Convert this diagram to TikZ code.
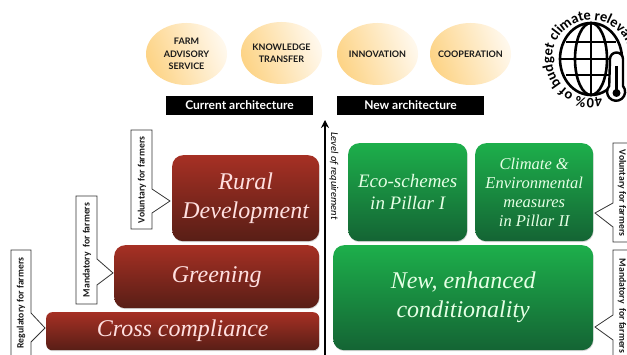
\documentclass[tikz,border=0pt]{standalone}
\usepackage{fontspec}
\setmainfont{Liberation Serif}
\newfontfamily\labelfont{Carlito}
\newfontfamily\capsfont{Lato}
\usepackage{xcolor}
\usetikzlibrary{shapes.geometric,shadows,arrows.meta}
\definecolor{redtop}{RGB}{166,48,36}
\definecolor{redmid}{RGB}{146,42,30}
\definecolor{redlow}{RGB}{88,30,22}
\definecolor{greentop}{RGB}{29,175,75}
\definecolor{greenmid}{RGB}{27,155,68}
\definecolor{greenlow}{RGB}{20,100,52}
\definecolor{peach1}{RGB}{253,212,135}
\definecolor{peach2}{RGB}{255,248,236}
\tikzset{
  redbox/.style={rectangle, rounded corners=11pt, anchor=north west, inner sep=0pt, top color=redtop, middle color=redmid, bottom color=redlow, text=white!88!red, align=center, font=\itshape\fontsize{24}{29}\selectfont, drop shadow={opacity=0.3,shadow xshift=0.5pt,shadow yshift=-1pt}},
  greenbox/.style={rectangle, rounded corners=11pt, anchor=north west, inner sep=0pt, top color=greentop, middle color=greenmid, bottom color=greenlow, text=white!90!green, align=center, font=\itshape\fontsize{24}{29}\selectfont, drop shadow={opacity=0.3,shadow xshift=0.5pt,shadow yshift=-1pt}},
  farmoval/.style={ellipse, minimum width=81pt, minimum height=62pt, inner sep=0pt, left color=peach1, right color=peach2, shading angle=110},
  ovaltext/.style={inner sep=0pt, align=center, text=black!90, font=\capsfont\bfseries\fontsize{9}{12.5}\selectfont},
  archbar/.style={rectangle, fill=black, text=white, minimum width=147pt, minimum height=19pt, inner sep=0pt, font=\capsfont\bfseries\fontsize{12}{14}\selectfont},
  farmerbox/.style={draw=black!80, line width=0.8pt, fill=white},
  farmertext/.style={inner sep=0pt, text=black!90, font=\labelfont\bfseries\fontsize{9.7}{11}\selectfont},
  ringtext/.style={inner sep=0pt, anchor=base, font=\labelfont\bfseries\fontsize{14.5}{15}\selectfont},
  iconline/.style={line width=2.6pt, black}
}
\begin{document}
\begin{tikzpicture}[x=1pt, y=-1pt]
\useasboundingbox (0,0) rectangle (627,355);
\clip (0,0) rectangle (627,355);
\fill[white] (0,0) rectangle (627,355);

% Ovals
\node[farmoval, label={[ovaltext]center:{FARM\\ADVISORY\\SERVICE}}] (advisory) at (186.5,54) {};
\node[farmoval, label={[ovaltext]center:{KNOWLEDGE\\TRANSFER}}] (knowledge) at (281.5,53) {};
\node[farmoval, label={[ovaltext]center:INNOVATION}] (innovation) at (377.5,54) {};
\node[farmoval, label={[ovaltext]center:COOPERATION}] (cooperation) at (470.5,54) {};

% Bars
\node[archbar] (current) at (239.5,105.5) {Current architecture};
\node[archbar] (new) at (410.5,105.5) {New architecture};

% Red boxes
\node[redbox, minimum width=147pt, minimum height=86pt] (rural) at (172,155) {Rural\\Development};
\node[redbox, minimum width=205pt, minimum height=63pt] (greening) at (114,245) {Greening};
\node[redbox, rounded corners=6pt, minimum width=273pt, minimum height=38pt] (cross) at (46,312) {Cross compliance};

% Green boxes
\node[greenbox, minimum width=119pt, minimum height=98pt, font=\itshape\fontsize{19}{22}\selectfont] (eco) at (348,143) {Eco-schemes\\in Pillar I};
\node[greenbox, minimum width=118pt, minimum height=98pt, font=\itshape\fontsize{16.5}{19}\selectfont] (climate) at (475,143) {Climate \&\\Environmental\\measures\\in Pillar II};
\node[greenbox, minimum width=260pt, minimum height=105pt] (cond) at (333,245) {New, enhanced\\conditionality};

% Axis
\coordinate (axisdown) at (325,356);
\coordinate (axisup) at (325,120);
\draw[-{Stealth[length=8pt,width=8pt]}, line width=2pt] (axisdown) -- (axisup);
\node[rotate=-90, inner sep=0pt, font=\labelfont\itshape\fontsize{10.5}{12}\selectfont] (level) at (334,176) {Level of requirement};

% Farmer labels
\draw[farmerbox] (131,130) -- (152,130) -- (152,189) -- (170,201) -- (152,213) -- (152,229) -- (131,229) -- cycle;
\node[farmertext, rotate=90] (vol1) at (142,180) {Voluntary for farmers};
\draw[farmerbox] (76,196) -- (97,196) -- (97,259) -- (113,273) -- (97,285) -- (97,304) -- (76,304) -- cycle;
\node[farmertext, rotate=90] (man1) at (87,250) {Mandatory\ \ for farmers};
\draw[farmerbox] (11,250) -- (31,250) -- (31,313) -- (45,328) -- (31,342) -- (31,360) -- (11,360) -- cycle;
\node[farmertext, rotate=90] (reg1) at (21,303) {Regulatory for farmers};
\draw[farmerbox] (635,143) -- (613,143) -- (613,203) -- (595,213) -- (613,227) -- (613,242) -- (635,242) -- cycle;
\node[farmertext, rotate=-90] (vol2) at (622,193) {Voluntary for farmers};
\draw[farmerbox] (635,250) -- (613,250) -- (613,315) -- (595,327) -- (613,340) -- (613,360) -- (635,360) -- cycle;
\node[farmertext, rotate=-90] (man2) at (622,306) {Mandatory\ \ for farmers};

% Globe
\coordinate (globe) at (591,59);
\draw[iconline] (globe) ellipse (31 and 36);
\draw[iconline] (globe) ellipse (16 and 36);
\draw[iconline] (591,23) -- (591,95);
\draw[iconline] (566,42) -- (616,42);
\draw[iconline] (560,59) -- (622,59);
\draw[iconline] (566,75) -- (616,75);

% Thermometer
\draw[line width=2.4pt, fill=white] (610,59) arc[start angle=180, end angle=0, radius=6.5pt] -- (623,86) arc[start angle=40, end angle=-220, radius=9pt] -- cycle;
\draw[line width=2.6pt] (616.5,66) -- (616.5,90);
\fill (616.5,93) circle (4);

% Ring text
\foreach \ch/\b [count=\i, evaluate=\b as \a using -80-1.14*(\b-80)] in {4/80,0/89.4,\%/100.9,o/116.7,f/124.7,b/136.7,u/146.7,d/156.7,g/166.2,e/175.5,t/183.2,c/194.4,l/200.6,i/205.1,m/214.9,a/226.9,t/234.6,e/242.3,r/254,e/261.8,l/268.5,e/275.3,v/284.3,a/293.3,n/302.8,t/310.9}
  \node[ringtext, rotate=\a-90] (ring\i) at ([shift={(\a:39pt)}]globe) {\ch};
\end{tikzpicture}
\end{document}
